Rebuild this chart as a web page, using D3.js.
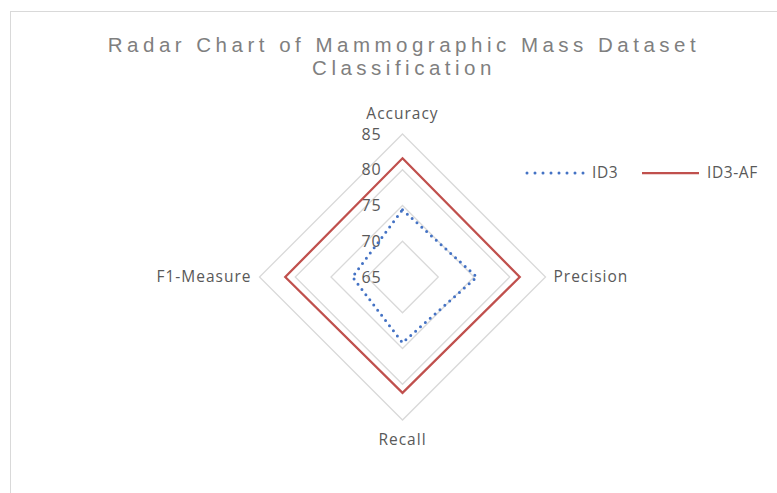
<!DOCTYPE html>
<meta charset="utf-8">
<title>Radar Chart of Mammographic Mass Dataset Classification</title>
<style>
  body { margin: 0; background: #fff; }
  svg { display: block; }
</style>
<body>
<script src="https://cdn.jsdelivr.net/npm/d3@7"></script>
<script>
// data ==============================================================
var axes = ['Accuracy', 'Precision', 'Recall', 'F1-Measure'];
var ticks = [65, 70, 75, 80, 85];
var seriesNames = ['ID3', 'ID3-AF'];
var id3 = [74.4, 75.4, 74.2, 72.0];
var id3af = [81.6, 81.4, 81.2, 81.4];

var width = 777,
    height = 493;
var cx = 402.5, cy = 277;

var r = d3.scaleLinear().domain([65, 85]).range([0, 143]);
var angle = function(i) { return i * Math.PI / 2; }; // clockwise from top
var pt = function(v, i) {
  return [cx + r(v) * Math.sin(angle(i)), cy - r(v) * Math.cos(angle(i))];
};

var svg = d3.select('body').append('svg')
    .attr('width', width)
    .attr('height', height);

// chart frame
svg.append('rect')
    .attr('x', 10.5).attr('y', 11.5)
    .attr('width', 900).attr('height', 600)
    .style('fill', 'none')
    .style('stroke', '#d9d9d9')
    .style('stroke-width', 1);

// title
var title = svg.append('text')
    .attr('text-anchor', 'middle')
    .style('font-family', 'Liberation Sans, Arial, sans-serif')
    .style('font-size', '20.5px')
    .style('letter-spacing', '4.5px')
    .style('fill', '#7f7f7f');
title.append('tspan').attr('x', 404).attr('y', 52).text('Radar Chart of Mammographic Mass Dataset');
title.append('tspan').attr('x', 404).attr('y', 75).text('Classification');

// grid rings
var line = d3.line().curve(d3.curveLinearClosed);
ticks.slice(1).forEach(function(t) {
  svg.append('path')
      .attr('d', line(axes.map(function(a, i) { return pt(t, i); })))
      .style('fill', 'none')
      .style('stroke', '#d9d9d9')
      .style('stroke-width', 1.3);
});

var font = 'Open Sans, sans-serif';

// tick labels
svg.selectAll('.tick')
    .data(ticks)
    .enter().append('text')
    .attr('x', cx - 21)
    .attr('y', function(d) { return cy - r(d); })
    .attr('dy', '0.35em')
    .attr('text-anchor', 'end')
    .style('font-family', font)
    .style('font-size', '16px')
    .style('letter-spacing', '0.8px')
    .style('fill', '#595959')
    .text(function(d) { return d; });

// axis labels
var labelPos = [
  {x: cx, y: cy - r(85) - 20, anchor: 'middle'},
  {x: cx + r(85) + 8, y: cy, anchor: 'start'},
  {x: cx, y: cy + r(85) + 20, anchor: 'middle'},
  {x: cx - r(85) - 8, y: cy, anchor: 'end'}
];
svg.selectAll('.axisLabel')
    .data(axes)
    .enter().append('text')
    .attr('x', function(d, i) { return labelPos[i].x; })
    .attr('y', function(d, i) { return labelPos[i].y; })
    .attr('dy', '0.35em')
    .attr('text-anchor', function(d, i) { return labelPos[i].anchor; })
    .style('font-family', font)
    .style('font-size', '15.5px')
    .style('letter-spacing', '1px')
    .style('fill', '#595959')
    .text(function(d) { return d; });

// series
svg.append('path')
    .attr('d', line(id3af.map(pt)))
    .style('fill', 'none')
    .style('stroke', '#c0504d')
    .style('stroke-width', 2.25);

svg.append('path')
    .attr('d', line(id3.map(pt)))
    .style('fill', 'none')
    .style('stroke', '#4472c4')
    .style('stroke-width', 3)
    .style('stroke-linecap', 'round')
    .style('stroke-dasharray', '0 6.5');

// legend
var legend = [
  {x: 527, color: '#4472c4', dash: '0 8', w: 3, cap: 'round'},
  {x: 642, color: '#c0504d', dash: null, w: 2.25, cap: 'butt'}
];
legend.forEach(function(l, i) {
  svg.append('line')
      .attr('x1', l.x).attr('x2', l.x + 57)
      .attr('y1', 173).attr('y2', 173)
      .style('stroke', l.color)
      .style('stroke-width', l.w)
      .style('stroke-linecap', l.cap)
      .style('stroke-dasharray', l.dash);
  svg.append('text')
      .attr('x', l.x + 65).attr('y', 173)
      .attr('dy', '0.35em')
      .style('font-family', font)
      .style('font-size', '15.5px')
      .style('letter-spacing', '0.6px')
      .style('fill', '#595959')
      .text(seriesNames[i]);
});
</script>
